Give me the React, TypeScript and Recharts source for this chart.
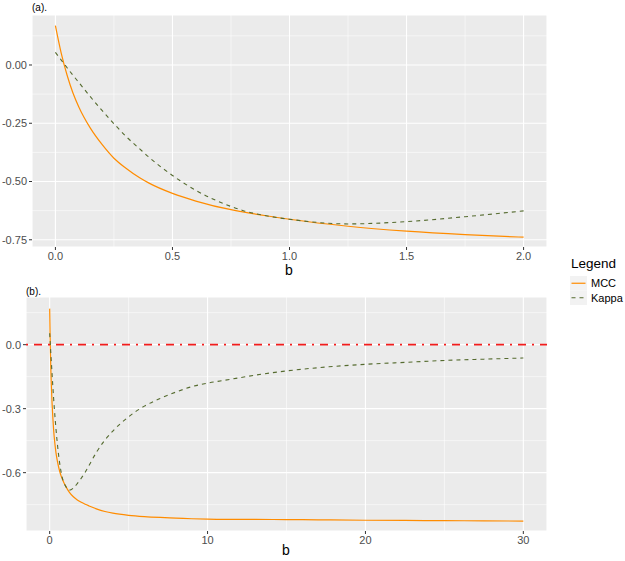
import React from "react";
import { LineChart, Line, XAxis, YAxis, CartesianGrid, ReferenceLine } from "recharts";

const bValues = [0, 0.025, 0.05, 0.075, 0.1, 0.15, 0.2, 0.25, 0.3, 0.36, 0.4, 0.5, 0.6, 0.75, 0.8, 0.9, 1.0, 1.25, 1.5, 1.75, 2.0, 2.25, 2.5, 3, 3.5, 4, 5, 6, 7, 8, 9, 10, 11, 13, 15, 17, 20, 22.5, 25, 27.5, 30];
const mccValues = [0.169, 0.05, -0.044, -0.12, -0.18, -0.272, -0.342, -0.4, -0.442, -0.484, -0.507, -0.551, -0.584, -0.621, -0.63, -0.647, -0.662, -0.692, -0.713, -0.728, -0.739, -0.748, -0.756, -0.771, -0.782, -0.79, -0.8, -0.806, -0.81, -0.813, -0.816, -0.818, -0.819, -0.819, -0.82, -0.821, -0.823, -0.824, -0.825, -0.826, -0.827];
const kappaValues = [0.054, 0.021, -0.012, -0.044, -0.075, -0.137, -0.196, -0.252, -0.305, -0.36, -0.396, -0.474, -0.538, -0.607, -0.624, -0.647, -0.662, -0.682, -0.672, -0.651, -0.626, -0.598, -0.565, -0.5, -0.447, -0.405, -0.338, -0.288, -0.252, -0.222, -0.197, -0.18, -0.168, -0.143, -0.123, -0.108, -0.092, -0.083, -0.074, -0.068, -0.0625];

const xTicksA = [0, 0.5, 1, 1.5, 2];
const xMinorA = [0.25, 0.75, 1.25, 1.75];
const yTicksA = [0, -0.25, -0.5, -0.75];
const yMinorA = [0.125, -0.125, -0.375, -0.625];

const xTicksB = [0, 10, 20, 30];
const xMinorB = [5, 15, 25];
const yTicksB = [0, -0.3, -0.6];
const yMinorB = [0.15, -0.15, -0.45, -0.75];

const data = bValues.map((b, i) => ({ b, MCC: mccValues[i], Kappa: kappaValues[i] }));
const dataA = data.filter((d) => d.b <= 2);

const FONT = "'Liberation Sans', Arial, sans-serif";
const tickStyle = { fill: "#4D4D4D", fontSize: 11, fontFamily: FONT };
const tickLine = { stroke: "#333333", strokeWidth: 1 };
const MCC_COLOR = "#FF8C00";
const KAPPA_COLOR = "#556B2F";

function Panel(props: {
  top: number;
  height: number;
  marginTop: number;
  yWidth: number;
  xHeight: number;
  chartData: any[];
  xDomain: [number, number];
  yDomain: [number, number];
  xTicks: number[];
  xMinor: number[];
  yTicks: number[];
  yMinor: number[];
  xFmt: (v: number) => string;
  yFmt: (v: number) => string;
  zeroLine?: boolean;
}) {
  const p = props;
  return (
    <div style={{ position: "absolute", left: 0, top: p.top }}>
      <LineChart
        width={625}
        height={p.height}
        data={p.chartData}
        margin={{ top: p.marginTop, right: 78, bottom: 0, left: 0 }}
      >
        <CartesianGrid fill="#EBEBEB" stroke="#FFFFFF" strokeWidth={1.1} />
        {p.xMinor.map((v) => (
          <ReferenceLine key={"xm" + v} x={v} stroke="#FFFFFF" strokeWidth={0.55} />
        ))}
        {p.yMinor.map((v) => (
          <ReferenceLine key={"ym" + v} y={v} stroke="#FFFFFF" strokeWidth={0.55} />
        ))}
        <XAxis
          type="number"
          dataKey="b"
          domain={p.xDomain}
          ticks={p.xTicks}
          tickFormatter={p.xFmt}
          allowDataOverflow
          height={p.xHeight}
          axisLine={false}
          tickLine={tickLine}
          tickSize={3}
          tickMargin={2}
          tick={tickStyle}
          interval={0}
        />
        <YAxis
          type="number"
          domain={p.yDomain}
          ticks={p.yTicks}
          tickFormatter={p.yFmt}
          allowDataOverflow
          width={p.yWidth}
          axisLine={false}
          tickLine={tickLine}
          tickSize={3}
          tickMargin={2}
          tick={tickStyle}
          interval={0}
        />
        <Line
          type="monotone"
          dataKey="MCC"
          stroke={MCC_COLOR}
          strokeWidth={1.2}
          dot={false}
          activeDot={false}
          isAnimationActive={false}
        />
        <Line
          type="monotone"
          dataKey="Kappa"
          stroke={KAPPA_COLOR}
          strokeWidth={1.1}
          strokeDasharray="4 4"
          dot={false}
          activeDot={false}
          isAnimationActive={false}
        />
        {p.zeroLine ? (
          <ReferenceLine y={0} stroke="#F21D1D" strokeWidth={1.8} strokeDasharray="2 6 8 6" />
        ) : null}
      </LineChart>
    </div>
  );
}

export default function App() {
  return (
    <div
      style={{
        position: "absolute",
        left: 0,
        top: 0,
        width: 625,
        height: 561,
        background: "#FFFFFF",
        fontFamily: FONT,
        overflow: "hidden",
      }}
    >
      <Panel
        top={0}
        height={280}
        marginTop={15}
        yWidth={32}
        xHeight={33}
        chartData={dataA}
        xDomain={[-0.1, 2.1]}
        yDomain={[-0.781, 0.2145]}
        xTicks={xTicksA}
        xMinor={xMinorA}
        yTicks={yTicksA}
        yMinor={yMinorA}
        xFmt={(v) => v.toFixed(1)}
        yFmt={(v) => (v === 0 ? "0.00" : v.toFixed(2))}
      />
      <Panel
        top={280}
        height={281}
        marginTop={17}
        yWidth={26}
        xHeight={30}
        chartData={data}
        xDomain={[-1.5, 31.5]}
        yDomain={[-0.8735, 0.2235]}
        xTicks={xTicksB}
        xMinor={xMinorB}
        yTicks={yTicksB}
        yMinor={yMinorB}
        xFmt={(v) => String(v)}
        yFmt={(v) => (v === 0 ? "0.0" : v.toFixed(1))}
        zeroLine
      />
      <div style={{ position: "absolute", left: 32, top: 2, fontSize: 10, color: "#000", lineHeight: "12px" }}>(a).</div>
      <div style={{ position: "absolute", left: 26, top: 286, fontSize: 10, color: "#000", lineHeight: "12px" }}>(b).</div>
      <div style={{ position: "absolute", left: 279, top: 262, width: 20, textAlign: "center", fontSize: 14, color: "#000", lineHeight: "16px" }}>b</div>
      <div style={{ position: "absolute", left: 276, top: 542, width: 20, textAlign: "center", fontSize: 14, color: "#000", lineHeight: "16px" }}>b</div>
      <div style={{ position: "absolute", left: 571, top: 256, fontSize: 13.5, color: "#000", lineHeight: "16px" }}>Legend</div>
      <svg style={{ position: "absolute", left: 570, top: 276 }} width={55} height={30}>
        <rect x={0} y={0} width={17} height={14.5} fill="#F2F2F2" />
        <rect x={0} y={14.5} width={17} height={14.5} fill="#F2F2F2" />
        <line x1={1.5} x2={15.5} y1={7.25} y2={7.25} stroke={MCC_COLOR} strokeWidth={1.2} />
        <line x1={1.5} x2={15.5} y1={21.75} y2={21.75} stroke={KAPPA_COLOR} strokeWidth={1.1} strokeDasharray="4 4" />
        <text x={21} y={7.25} dy="0.36em" fontSize={11} fill="#000" fontFamily={FONT}>MCC</text>
        <text x={21} y={21.75} dy="0.36em" fontSize={11} fill="#000" fontFamily={FONT}>Kappa</text>
      </svg>
    </div>
  );
}
